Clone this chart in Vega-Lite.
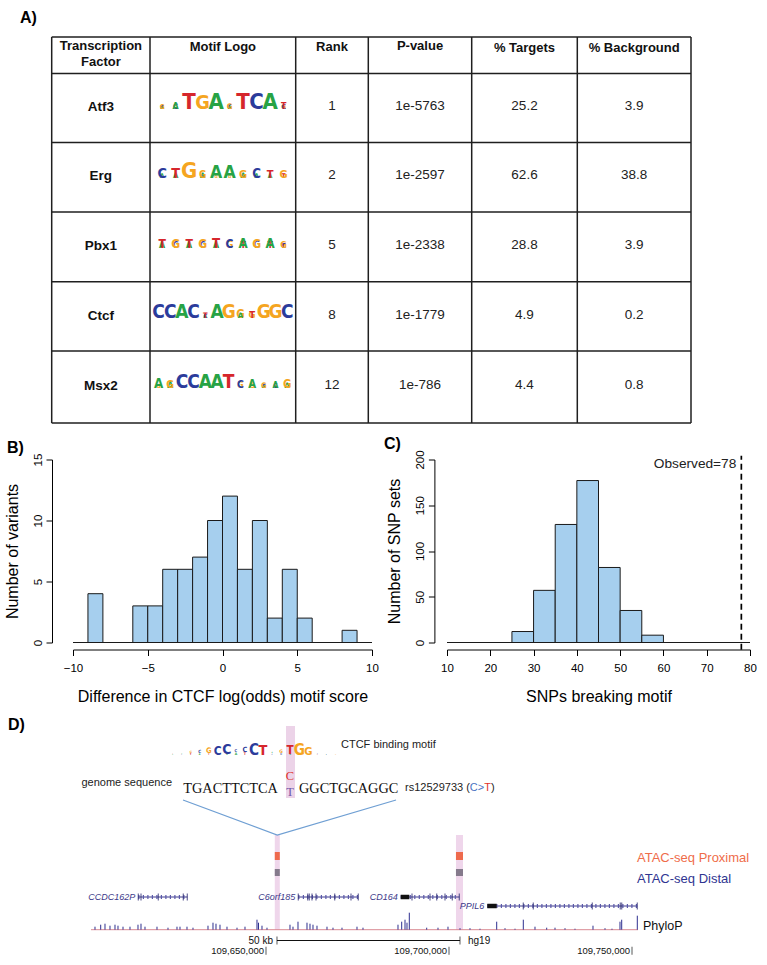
{
"$schema": "https://vega.github.io/schema/vega-lite/v6.json",
"background": "white",
"padding": {"left": 3, "top": 9, "right": 5, "bottom": 5},
"spacing": 11.5,
"config": {
  "font": "Liberation Sans",
  "view": {"stroke": null},
  "axis": {"grid": false, "domainColor": "black", "tickColor": "black", "labelColor": "black", "titleColor": "black", "labelFont": "Liberation Sans", "titleFont": "Liberation Sans", "titleFontWeight": "normal"},
  "title": {"font": "Liberation Sans", "fontWeight": "bold", "fontSize": 16, "anchor": "start", "frame": "group", "color": "black"}
},
"vconcat": [
{
  "width": 618, "height": 386,
  "title": {"text": "A)", "dx": -53, "offset": -2.6, "baseline": "alphabetic"},
  "layer": [
    {"data": {"values": [{"y": -0.024}, {"y": 0.5}, {"y": 1.487}, {"y": 2.48}, {"y": 3.48}, {"y": 4.47}, {"y": 5.5}]},
     "mark": {"type": "rule", "color": "#1f1f1f", "strokeWidth": 1.5},
     "encoding": {
       "y": {"field": "y", "type": "quantitative", "scale": {"domain": [-0.024, 5.5], "reverse": true, "nice": false, "zero": false}, "axis": null},
       "x": {"datum": 0, "type": "quantitative", "scale": {"domain": [21.3, 639.3], "nice": false, "zero": false}, "axis": null},
       "x2": {"datum": 639.3}}},
    {"data": {"values": [{"x": 0}, {"x": 98.3}, {"x": 244}, {"x": 316.6}, {"x": 420}, {"x": 525.6}, {"x": 639.3}]},
     "mark": {"type": "rule", "color": "#1f1f1f", "strokeWidth": 1.5},
     "encoding": {
       "x": {"field": "x", "type": "quantitative", "scale": {"domain": [21.3, 639.3], "nice": false, "zero": false}, "axis": null},
       "y": {"datum": -0.024, "type": "quantitative", "scale": {"domain": [-0.024, 5.5], "reverse": true, "nice": false, "zero": false}, "axis": null},
       "y2": {"datum": 5.5}}},
    {"data": {"values": [
       {"cx": 49.15, "hy": 0.105, "t": "Transcription"}, {"cx": 49.15, "hy": 0.334, "t": "Factor"},
       {"cx": 171.15, "hy": 0.12, "t": "Motif Logo"}, {"cx": 280.3, "hy": 0.12, "t": "Rank"},
       {"cx": 368.3, "hy": 0.105, "t": "P-value"}, {"cx": 472.8, "hy": 0.135, "t": "% Targets"},
       {"cx": 582.45, "hy": 0.135, "t": "% Background"}]},
     "mark": {"type": "text", "fontSize": 13, "fontWeight": "bold", "align": "center", "baseline": "middle", "color": "#111"},
     "encoding": {
       "x": {"field": "cx", "type": "quantitative", "scale": {"domain": [21.3, 639.3], "nice": false, "zero": false}, "axis": null},
       "y": {"field": "hy", "type": "quantitative", "scale": {"domain": [-0.024, 5.5], "reverse": true, "nice": false, "zero": false}, "axis": null},
       "text": {"field": "t"}}},
    {"data": {"values": [{"row": 1, "t": "Atf3"}, {"row": 2, "t": "Erg"}, {"row": 3, "t": "Pbx1"}, {"row": 4, "t": "Ctcf"}, {"row": 5, "t": "Msx2"}]},
     "mark": {"type": "text", "fontSize": 13.5, "fontWeight": "bold", "align": "center", "baseline": "middle", "dy": -2, "color": "#111"},
     "encoding": {
       "x": {"datum": 49.15, "type": "quantitative", "scale": {"domain": [21.3, 639.3], "nice": false, "zero": false}, "axis": null},
       "y": {"field": "row", "type": "quantitative", "scale": {"domain": [-0.024, 5.5], "reverse": true, "nice": false, "zero": false}, "axis": null},
       "text": {"field": "t"}}},
    {"data": {"values": [
       {"row": 1, "cx": 280.3, "t": "1"}, {"row": 1, "cx": 368.3, "t": "1e-5763"}, {"row": 1, "cx": 472.8, "t": "25.2"}, {"row": 1, "cx": 582.45, "t": "3.9"},
       {"row": 2, "cx": 280.3, "t": "2"}, {"row": 2, "cx": 368.3, "t": "1e-2597"}, {"row": 2, "cx": 472.8, "t": "62.6"}, {"row": 2, "cx": 582.45, "t": "38.8"},
       {"row": 3, "cx": 280.3, "t": "5"}, {"row": 3, "cx": 368.3, "t": "1e-2338"}, {"row": 3, "cx": 472.8, "t": "28.8"}, {"row": 3, "cx": 582.45, "t": "3.9"},
       {"row": 4, "cx": 280.3, "t": "8"}, {"row": 4, "cx": 368.3, "t": "1e-1779"}, {"row": 4, "cx": 472.8, "t": "4.9"}, {"row": 4, "cx": 582.45, "t": "0.2"},
       {"row": 5, "cx": 280.3, "t": "12"}, {"row": 5, "cx": 368.3, "t": "1e-786"}, {"row": 5, "cx": 472.8, "t": "4.4"}, {"row": 5, "cx": 582.45, "t": "0.8"}]},
     "mark": {"type": "text", "fontSize": 13.5, "align": "center", "baseline": "middle", "dy": -3, "color": "#222"},
     "encoding": {
       "x": {"field": "cx", "type": "quantitative", "scale": {"domain": [21.3, 639.3], "nice": false, "zero": false}, "axis": null},
       "y": {"field": "row", "type": "quantitative", "scale": {"domain": [-0.024, 5.5], "reverse": true, "nice": false, "zero": false}, "axis": null},
       "text": {"field": "t"}}},
    {"layer": [
      {"data": {"values": [
        {"row":1,"pos":1,"l":"T","y0":0,"p":0.2},{"row":1,"pos":1,"l":"A","y0":0.2,"p":0.25},{"row":1,"pos":1,"l":"C","y0":0.45,"p":0.25},{"row":1,"pos":1,"l":"G","y0":0.7,"p":0.3},
        {"row":1,"pos":2,"l":"G","y0":0,"p":0.25},{"row":1,"pos":2,"l":"C","y0":0.25,"p":0.35},{"row":1,"pos":2,"l":"A","y0":0.6,"p":0.4},
        {"row":1,"pos":3,"l":"T","y0":0,"p":1.0},
        {"row":1,"pos":4,"l":"T","y0":0,"p":0.1},{"row":1,"pos":4,"l":"G","y0":0.1,"p":0.9},
        {"row":1,"pos":5,"l":"A","y0":0,"p":1.0},
        {"row":1,"pos":6,"l":"T","y0":0,"p":0.1},{"row":1,"pos":6,"l":"A","y0":0.1,"p":0.25},{"row":1,"pos":6,"l":"C","y0":0.35,"p":0.3},{"row":1,"pos":6,"l":"G","y0":0.65,"p":0.35},
        {"row":1,"pos":7,"l":"T","y0":0,"p":1.0},
        {"row":1,"pos":8,"l":"C","y0":0,"p":1.0},
        {"row":1,"pos":9,"l":"A","y0":0,"p":1.0},
        {"row":1,"pos":10,"l":"G","y0":0,"p":0.3},{"row":1,"pos":10,"l":"C","y0":0.3,"p":0.3},{"row":1,"pos":10,"l":"T","y0":0.6,"p":0.4},
        {"row":2,"pos":1,"l":"T","y0":0,"p":0.05},{"row":2,"pos":1,"l":"A","y0":0.05,"p":0.3},{"row":2,"pos":1,"l":"C","y0":0.35,"p":0.65},
        {"row":2,"pos":2,"l":"A","y0":0,"p":0.35},{"row":2,"pos":2,"l":"T","y0":0.35,"p":0.65},
        {"row":2,"pos":3,"l":"G","y0":0,"p":1.0},
        {"row":2,"pos":4,"l":"C","y0":0,"p":0.2},{"row":2,"pos":4,"l":"A","y0":0.2,"p":0.35},{"row":2,"pos":4,"l":"G","y0":0.55,"p":0.45},
        {"row":2,"pos":5,"l":"G","y0":0,"p":0.2},{"row":2,"pos":5,"l":"A","y0":0.2,"p":0.8},
        {"row":2,"pos":6,"l":"G","y0":0,"p":0.2},{"row":2,"pos":6,"l":"A","y0":0.2,"p":0.8},
        {"row":2,"pos":7,"l":"T","y0":0,"p":0.15},{"row":2,"pos":7,"l":"A","y0":0.15,"p":0.35},{"row":2,"pos":7,"l":"G","y0":0.5,"p":0.5},
        {"row":2,"pos":8,"l":"T","y0":0,"p":0.1},{"row":2,"pos":8,"l":"A","y0":0.1,"p":0.3},{"row":2,"pos":8,"l":"C","y0":0.4,"p":0.6},
        {"row":2,"pos":9,"l":"C","y0":0,"p":0.1},{"row":2,"pos":9,"l":"G","y0":0.1,"p":0.1},{"row":2,"pos":9,"l":"A","y0":0.2,"p":0.3},{"row":2,"pos":9,"l":"T","y0":0.5,"p":0.5},
        {"row":2,"pos":10,"l":"C","y0":0,"p":0.1},{"row":2,"pos":10,"l":"A","y0":0.1,"p":0.1},{"row":2,"pos":10,"l":"T","y0":0.2,"p":0.3},{"row":2,"pos":10,"l":"G","y0":0.5,"p":0.5},
        {"row":3,"pos":1,"l":"G","y0":0,"p":0.05},{"row":3,"pos":1,"l":"A","y0":0.05,"p":0.4},{"row":3,"pos":1,"l":"T","y0":0.45,"p":0.55},
        {"row":3,"pos":2,"l":"A","y0":0,"p":0.05},{"row":3,"pos":2,"l":"C","y0":0.05,"p":0.4},{"row":3,"pos":2,"l":"G","y0":0.45,"p":0.55},
        {"row":3,"pos":3,"l":"G","y0":0,"p":0.05},{"row":3,"pos":3,"l":"A","y0":0.05,"p":0.4},{"row":3,"pos":3,"l":"T","y0":0.45,"p":0.55},
        {"row":3,"pos":4,"l":"T","y0":0,"p":0.05},{"row":3,"pos":4,"l":"C","y0":0.05,"p":0.4},{"row":3,"pos":4,"l":"G","y0":0.45,"p":0.55},
        {"row":3,"pos":5,"l":"A","y0":0,"p":0.4},{"row":3,"pos":5,"l":"T","y0":0.4,"p":0.6},
        {"row":3,"pos":6,"l":"G","y0":0,"p":0.45},{"row":3,"pos":6,"l":"C","y0":0.45,"p":0.55},
        {"row":3,"pos":7,"l":"T","y0":0,"p":0.4},{"row":3,"pos":7,"l":"A","y0":0.4,"p":0.6},
        {"row":3,"pos":8,"l":"C","y0":0,"p":0.45},{"row":3,"pos":8,"l":"G","y0":0.45,"p":0.55},
        {"row":3,"pos":9,"l":"T","y0":0,"p":0.4},{"row":3,"pos":9,"l":"A","y0":0.4,"p":0.6},
        {"row":3,"pos":10,"l":"T","y0":0,"p":0.3},{"row":3,"pos":10,"l":"C","y0":0.3,"p":0.3},{"row":3,"pos":10,"l":"G","y0":0.6,"p":0.4}]},
       "mark": {"type": "text", "fontWeight": "bold", "font": "Liberation Sans Narrow, DejaVu Sans Condensed, Roboto, sans-serif", "baseline": "alphabetic", "align": "center"},
       "encoding": {
         "x": {"datum": 171.15, "type": "quantitative", "scale": {"domain": [21.3, 639.3], "nice": false, "zero": false}, "axis": null},
         "xOffset": {"field": "pos", "type": "quantitative", "scale": {"domain": [1, 10], "range": [-60.75, 60.75]}},
         "y": {"field": "row", "type": "quantitative", "scale": {"domain": [-0.024, 5.5], "reverse": true, "nice": false, "zero": false}, "axis": null},
         "yOffset": {"field": "y0", "type": "quantitative", "scale": {"domain": [0, 1], "range": [5, -10.6]}},
         "size": {"field": "p", "type": "quantitative", "scale": {"type": "linear", "domain": [0, 1], "range": [0, 22]}, "legend": null},
         "color": {"field": "l", "type": "nominal", "scale": {"domain": ["A", "C", "G", "T"], "range": ["#27a345", "#2b3b9b", "#f5a51f", "#d6262c"]}, "legend": null},
         "text": {"field": "l"}}},
      {"data": {"values": [
        {"row":4,"pos":1,"l":"C","y0":0,"p":1.0},{"row":4,"pos":2,"l":"C","y0":0,"p":1.0},{"row":4,"pos":3,"l":"A","y0":0,"p":1.0},{"row":4,"pos":4,"l":"C","y0":0,"p":1.0},
        {"row":4,"pos":5,"l":"A","y0":0,"p":0.3},{"row":4,"pos":5,"l":"C","y0":0.3,"p":0.3},{"row":4,"pos":5,"l":"T","y0":0.6,"p":0.4},
        {"row":4,"pos":6,"l":"A","y0":0,"p":1.0},{"row":4,"pos":7,"l":"G","y0":0,"p":1.0},
        {"row":4,"pos":8,"l":"G","y0":0,"p":0.6},{"row":4,"pos":8,"l":"A","y0":0.6,"p":0.4},
        {"row":4,"pos":9,"l":"G","y0":0,"p":0.5},{"row":4,"pos":9,"l":"T","y0":0.5,"p":0.5},
        {"row":4,"pos":10,"l":"G","y0":0,"p":1.0},{"row":4,"pos":11,"l":"G","y0":0,"p":1.0},{"row":4,"pos":12,"l":"C","y0":0,"p":1.0},
        {"row":5,"pos":1,"l":"G","y0":0,"p":0.3},{"row":5,"pos":1,"l":"A","y0":0.3,"p":0.7},
        {"row":5,"pos":2,"l":"A","y0":0,"p":0.45},{"row":5,"pos":2,"l":"G","y0":0.45,"p":0.55},
        {"row":5,"pos":3,"l":"C","y0":0,"p":1.0},{"row":5,"pos":4,"l":"C","y0":0,"p":1.0},{"row":5,"pos":5,"l":"A","y0":0,"p":1.0},{"row":5,"pos":6,"l":"A","y0":0,"p":1.0},{"row":5,"pos":7,"l":"T","y0":0,"p":1.0},
        {"row":5,"pos":8,"l":"G","y0":0,"p":0.45},{"row":5,"pos":8,"l":"C","y0":0.45,"p":0.55},
        {"row":5,"pos":9,"l":"G","y0":0,"p":0.4},{"row":5,"pos":9,"l":"A","y0":0.4,"p":0.6},
        {"row":5,"pos":10,"l":"A","y0":0,"p":0.3},{"row":5,"pos":10,"l":"C","y0":0.3,"p":0.3},{"row":5,"pos":10,"l":"G","y0":0.6,"p":0.4},
        {"row":5,"pos":11,"l":"T","y0":0,"p":0.2},{"row":5,"pos":11,"l":"C","y0":0.2,"p":0.35},{"row":5,"pos":11,"l":"A","y0":0.55,"p":0.45},
        {"row":5,"pos":12,"l":"A","y0":0,"p":0.4},{"row":5,"pos":12,"l":"G","y0":0.4,"p":0.6}]},
       "mark": {"type": "text", "fontWeight": "bold", "font": "Liberation Sans Narrow, DejaVu Sans Condensed, Roboto, sans-serif", "baseline": "alphabetic", "align": "center"},
       "encoding": {
         "x": {"datum": 171.15, "type": "quantitative", "scale": {"domain": [21.3, 639.3], "nice": false, "zero": false}, "axis": null},
         "xOffset": {"field": "pos", "type": "quantitative", "scale": {"domain": [1, 12], "range": [-64.35, 64.35]}},
         "y": {"field": "row", "type": "quantitative", "scale": {"domain": [-0.024, 5.5], "reverse": true, "nice": false, "zero": false}, "axis": null},
         "yOffset": {"field": "y0", "type": "quantitative", "scale": {"domain": [0, 1], "range": [4.5, -9]}},
         "size": {"field": "p", "type": "quantitative", "scale": {"type": "linear", "domain": [0, 1], "range": [0, 19]}, "legend": null},
         "color": {"field": "l", "type": "nominal", "scale": {"domain": ["A", "C", "G", "T"], "range": ["#27a345", "#2b3b9b", "#f5a51f", "#d6262c"]}, "legend": null},
         "text": {"field": "l"}}}
     ],
     "resolve": {"scale": {"xOffset": "independent", "yOffset": "independent", "size": "independent"}}}
  ]
},
{
  "hconcat": [
    {
      "width": 299, "height": 183,
      "title": {"text": "B)", "dx": -66, "offset": -15.4, "baseline": "alphabetic"},
      "layer": [
        {"data": {"values": [
          {"lo": -9, "hi": -8, "n": 4}, {"lo": -6, "hi": -5, "n": 3}, {"lo": -5, "hi": -4, "n": 3}, {"lo": -4, "hi": -3, "n": 6},
          {"lo": -3, "hi": -2, "n": 6}, {"lo": -2, "hi": -1, "n": 7}, {"lo": -1, "hi": 0, "n": 10}, {"lo": 0, "hi": 1, "n": 12},
          {"lo": 1, "hi": 2, "n": 6}, {"lo": 2, "hi": 3, "n": 10}, {"lo": 3, "hi": 4, "n": 2}, {"lo": 4, "hi": 5, "n": 6},
          {"lo": 5, "hi": 6, "n": 2}, {"lo": 8, "hi": 9, "n": 1}]},
         "mark": {"type": "rect", "fill": "#a6cfee", "stroke": "#1a1a1a", "strokeWidth": 1},
         "encoding": {
           "x": {"field": "lo", "type": "quantitative", "scale": {"domain": [-10, 10], "nice": false, "zero": false},
                 "axis": {"values": [-10, -5, 0, 5, 10], "offset": 7, "tickSize": 6, "labelFontSize": 11.5, "labelPadding": 7, "labelFlush": false, "labelOverlap": false,
                          "title": "Difference in CTCF log(odds) motif score", "titleFontSize": 16, "titlePadding": 14}},
           "x2": {"field": "hi"},
           "y": {"field": "n", "type": "quantitative", "scale": {"domain": [0, 15], "nice": false},
                 "axis": {"values": [0, 5, 10, 15], "offset": 21, "tickSize": 6, "labelAngle": -90, "labelFontSize": 11.5, "labelPadding": 3, "labelFlush": false,
                          "title": "Number of variants", "titleFontSize": 16, "titlePadding": 12}},
           "y2": {"datum": 0}}},
        {"data": {"values": [{"from": -10, "to": 10}]},
         "mark": {"type": "rule", "color": "#1a1a1a", "strokeWidth": 1},
         "encoding": {"x": {"field": "from", "type": "quantitative"}, "x2": {"field": "to"}, "y": {"datum": 0, "type": "quantitative"}}}
      ]
    },
    {
      "width": 303, "height": 183,
      "title": {"text": "C)", "dx": -63, "offset": -15.4, "baseline": "alphabetic"},
      "layer": [
        {"data": {"values": [
          {"lo": 25, "hi": 30, "n": 12}, {"lo": 30, "hi": 35, "n": 57}, {"lo": 35, "hi": 40, "n": 129}, {"lo": 40, "hi": 45, "n": 177},
          {"lo": 45, "hi": 50, "n": 82}, {"lo": 50, "hi": 55, "n": 35}, {"lo": 55, "hi": 60, "n": 8}]},
         "mark": {"type": "rect", "fill": "#a6cfee", "stroke": "#1a1a1a", "strokeWidth": 1},
         "encoding": {
           "x": {"field": "lo", "type": "quantitative", "scale": {"domain": [10, 80], "nice": false, "zero": false},
                 "axis": {"values": [10, 20, 30, 40, 50, 60, 70, 80], "offset": 7, "tickSize": 6, "labelFontSize": 11.5, "labelPadding": 7, "labelFlush": false, "labelOverlap": false,
                          "title": "SNPs breaking motif", "titleFontSize": 16, "titlePadding": 14}},
           "x2": {"field": "hi"},
           "y": {"field": "n", "type": "quantitative", "scale": {"domain": [0, 200], "nice": false},
                 "axis": {"values": [0, 50, 100, 150, 200], "offset": 12.6, "tickSize": 6, "labelAngle": -90, "labelFontSize": 11.5, "labelPadding": 3, "labelFlush": false,
                          "title": "Number of SNP sets", "titleFontSize": 16, "titlePadding": 12}},
           "y2": {"datum": 0}}},
        {"data": {"values": [{"from": 10, "to": 80}]},
         "mark": {"type": "rule", "color": "#1a1a1a", "strokeWidth": 1},
         "encoding": {"x": {"field": "from", "type": "quantitative"}, "x2": {"field": "to"}, "y": {"datum": 0, "type": "quantitative"}}},
        {"data": {"values": [{"obs": 78, "label": "Observed=78"}]},
         "layer": [
           {"mark": {"type": "rule", "color": "black", "strokeWidth": 1.7, "strokeDash": [6, 4]},
            "encoding": {"x": {"field": "obs", "type": "quantitative"}, "y": {"datum": -8, "type": "quantitative"}, "y2": {"datum": 204}}},
           {"mark": {"type": "text", "align": "right", "baseline": "middle", "dx": -5, "fontSize": 13.7, "color": "#222"},
            "encoding": {"x": {"field": "obs", "type": "quantitative"}, "y": {"datum": 195, "type": "quantitative"}, "text": {"field": "label"}}}
         ]}
      ]
    }
  ],
  "spacing": 5
},
{
  "width": 565, "height": 222,
  "title": {"text": "D)", "dx": -65, "offset": -19.8, "baseline": "alphabetic"},
  "resolve": {"scale": {"x": "independent", "y": "independent", "color": "independent", "size": "independent"}},
  "layer": [
    {"data": {"values": [{"s": 109652400, "e": 109653770}, {"s": 109701900, "e": 109703820}]},
     "mark": {"type": "rect", "fill": "#efd6eb"},
     "encoding": {
       "x": {"field": "s", "type": "quantitative", "scale": {"domain": [109597269, 109751638], "nice": false, "zero": false}, "axis": null},
       "x2": {"field": "e"},
       "y": {"datum": 9.9, "type": "quantitative", "scale": {"domain": [0, 22.2], "reverse": true, "nice": false, "zero": false}, "axis": null},
       "y2": {"datum": 19.4}}},
    {"data": {"values": [{"u0": 11.31, "u1": 12.26}]},
     "mark": {"type": "rect", "fill": "#ecd3e8"},
     "encoding": {
       "x": {"field": "u0", "type": "quantitative", "scale": {"domain": [-11.11, 48.36], "nice": false, "zero": false}, "axis": null},
       "x2": {"field": "u1"},
       "y": {"datum": -1.0, "type": "quantitative", "scale": {"domain": [0, 22.2], "reverse": true, "nice": false, "zero": false}, "axis": null},
       "y2": {"datum": 6.2}}},
    {"data": {"values": [{"u": 0.47, "y": 6.4, "o": 1}, {"u": 10.39, "y": 9.9, "o": 2}, {"u": 22.89, "y": 6.4, "o": 3}]},
     "mark": {"type": "line", "color": "#6f9fd3", "strokeWidth": 1.3},
     "encoding": {
       "x": {"field": "u", "type": "quantitative", "scale": {"domain": [-11.11, 48.36], "nice": false, "zero": false}, "axis": null},
       "y": {"field": "y", "type": "quantitative", "scale": {"domain": [0, 22.2], "reverse": true, "nice": false, "zero": false}, "axis": null},
       "order": {"field": "o"}}},
    {"data": {"values": [
       {"pos":1,"l":"A","y0":0,"b":0.12},{"pos":1,"l":"T","y0":0.12,"b":0.15},
       {"pos":2,"l":"C","y0":0,"b":0.12},{"pos":2,"l":"A","y0":0.12,"b":0.15},
       {"pos":3,"l":"T","y0":0,"b":0.35},{"pos":3,"l":"G","y0":0.35,"b":0.4},
       {"pos":4,"l":"A","y0":0,"b":0.3},{"pos":4,"l":"C","y0":0.3,"b":0.55},
       {"pos":5,"l":"T","y0":0,"b":0.3},{"pos":5,"l":"G","y0":0.3,"b":0.95},
       {"pos":6,"l":"C","y0":0,"b":1.5},
       {"pos":7,"l":"A","y0":0,"b":0.25},{"pos":7,"l":"C","y0":0.25,"b":1.75},
       {"pos":8,"l":"A","y0":0,"b":0.45},{"pos":8,"l":"C","y0":0.45,"b":0.5},
       {"pos":9,"l":"T","y0":0,"b":0.45},{"pos":9,"l":"C","y0":0.45,"b":0.9},
       {"pos":10,"l":"C","y0":0,"b":1.9},
       {"pos":11,"l":"T","y0":0,"b":1.8},
       {"pos":12,"l":"C","y0":0,"b":0.2},{"pos":12,"l":"A","y0":0.2,"b":0.2},
       {"pos":13,"l":"C","y0":0,"b":0.35},{"pos":13,"l":"G","y0":0.35,"b":0.6},
       {"pos":14,"l":"A","y0":0,"b":0.25},{"pos":14,"l":"T","y0":0.25,"b":1.45},
       {"pos":15,"l":"G","y0":0,"b":1.9},
       {"pos":16,"l":"G","y0":0,"b":1.4},
       {"pos":17,"l":"T","y0":0,"b":0.12},{"pos":17,"l":"C","y0":0.12,"b":0.15},
       {"pos":18,"l":"C","y0":0,"b":0.1},{"pos":18,"l":"A","y0":0.1,"b":0.1},
       {"pos":19,"l":"G","y0":0,"b":0.1},{"pos":19,"l":"A","y0":0.1,"b":0.08}]},
     "mark": {"type": "text", "fontWeight": "bold", "font": "Liberation Sans Narrow, DejaVu Sans Condensed, Roboto, sans-serif", "baseline": "alphabetic", "align": "center"},
     "encoding": {
       "x": {"field": "pos", "type": "quantitative", "scale": {"domain": [-9.997, 52.43], "nice": false, "zero": false}, "axis": null},
       "y": {"field": "y0", "type": "quantitative", "scale": {"domain": [-35.0, 3.28], "nice": false, "zero": false}, "axis": null},
       "size": {"field": "b", "type": "quantitative", "scale": {"type": "linear", "domain": [0, 2], "range": [0, 16]}, "legend": null},
       "color": {"field": "l", "type": "nominal", "scale": {"domain": ["A", "C", "G", "T"], "range": ["#27a345", "#2b3b9b", "#f5a51f", "#d6262c"]}, "legend": null},
       "text": {"field": "l"}}},
    {"data": {"values": [{"u": 17.1, "y": 0.87, "t": "CTCF binding motif"}, {"u": 23.84, "y": 5.2, "t": "rs12529733 ("}, {"u": 32.88, "y": 5.2, "t": ")"}]},
     "mark": {"type": "text", "align": "left", "baseline": "middle", "fontSize": 11, "color": "#222"},
     "encoding": {
       "x": {"field": "u", "type": "quantitative", "scale": {"domain": [-11.11, 48.36], "nice": false, "zero": false}, "axis": null},
       "y": {"field": "y", "type": "quantitative", "scale": {"domain": [0, 22.2], "reverse": true, "nice": false, "zero": false}, "axis": null},
       "text": {"field": "t"}}},
    {"data": {"values": [{"u": -0.69, "y": 4.7, "t": "genome sequence"}]},
     "mark": {"type": "text", "align": "right", "baseline": "middle", "fontSize": 11, "color": "#222"},
     "encoding": {
       "x": {"field": "u", "type": "quantitative", "scale": {"domain": [-11.11, 48.36], "nice": false, "zero": false}, "axis": null},
       "y": {"field": "y", "type": "quantitative", "scale": {"domain": [0, 22.2], "reverse": true, "nice": false, "zero": false}, "axis": null},
       "text": {"field": "t"}}},
    {"data": {"values": [{"u": 0.5, "y": 5.3, "t": "TGACTTCTCA"}, {"u": 12.68, "y": 5.3, "t": "GGCTGCAGGC"}]},
     "mark": {"type": "text", "align": "left", "baseline": "middle", "fontSize": 14.3, "font": "Liberation Serif", "color": "#111"},
     "encoding": {
       "x": {"field": "u", "type": "quantitative", "scale": {"domain": [-11.11, 48.36], "nice": false, "zero": false}, "axis": null},
       "y": {"field": "y", "type": "quantitative", "scale": {"domain": [0, 22.2], "reverse": true, "nice": false, "zero": false}, "axis": null},
       "text": {"field": "t"}}},
    {"data": {"values": [{"u": 11.73, "y": 4.0, "t": "C"}]},
     "mark": {"type": "text", "align": "center", "baseline": "middle", "fontSize": 12.5, "font": "Liberation Serif", "color": "#e0342b"},
     "encoding": {
       "x": {"field": "u", "type": "quantitative", "scale": {"domain": [-11.11, 48.36], "nice": false, "zero": false}, "axis": null},
       "y": {"field": "y", "type": "quantitative", "scale": {"domain": [0, 22.2], "reverse": true, "nice": false, "zero": false}, "axis": null},
       "text": {"field": "t"}}},
    {"data": {"values": [{"u": 11.73, "y": 5.6, "t": "T"}]},
     "mark": {"type": "text", "align": "center", "baseline": "middle", "fontSize": 12.5, "font": "Liberation Serif", "color": "#7057a8"},
     "encoding": {
       "x": {"field": "u", "type": "quantitative", "scale": {"domain": [-11.11, 48.36], "nice": false, "zero": false}, "axis": null},
       "y": {"field": "y", "type": "quantitative", "scale": {"domain": [0, 22.2], "reverse": true, "nice": false, "zero": false}, "axis": null},
       "text": {"field": "t"}}},
    {"data": {"values": [{"u": 30.66, "y": 5.2, "t": "C>"}]},
     "mark": {"type": "text", "align": "left", "baseline": "middle", "fontSize": 11, "color": "#4b72c2"},
     "encoding": {
       "x": {"field": "u", "type": "quantitative", "scale": {"domain": [-11.11, 48.36], "nice": false, "zero": false}, "axis": null},
       "y": {"field": "y", "type": "quantitative", "scale": {"domain": [0, 22.2], "reverse": true, "nice": false, "zero": false}, "axis": null},
       "text": {"field": "t"}}},
    {"data": {"values": [{"u": 32.18, "y": 5.2, "t": "T"}]},
     "mark": {"type": "text", "align": "left", "baseline": "middle", "fontSize": 11, "color": "#e0342b"},
     "encoding": {
       "x": {"field": "u", "type": "quantitative", "scale": {"domain": [-11.11, 48.36], "nice": false, "zero": false}, "axis": null},
       "y": {"field": "y", "type": "quantitative", "scale": {"domain": [0, 22.2], "reverse": true, "nice": false, "zero": false}, "axis": null},
       "text": {"field": "t"}}},
    {"data": {"values": [{"s": 109652400, "e": 109653770}, {"s": 109701900, "e": 109703820}]},
     "mark": {"type": "rect", "fill": "#ee6a4d"},
     "encoding": {
       "x": {"field": "s", "type": "quantitative", "scale": {"domain": [109597269, 109751638], "nice": false, "zero": false}, "axis": null},
       "x2": {"field": "e"},
       "y": {"datum": 11.6, "type": "quantitative", "scale": {"domain": [0, 22.2], "reverse": true, "nice": false, "zero": false}, "axis": null},
       "y2": {"datum": 12.4}}},
    {"data": {"values": [{"s": 109652400, "e": 109653770}, {"s": 109701900, "e": 109703820}]},
     "mark": {"type": "rect", "fill": "#857a8c"},
     "encoding": {
       "x": {"field": "s", "type": "quantitative", "scale": {"domain": [109597269, 109751638], "nice": false, "zero": false}, "axis": null},
       "x2": {"field": "e"},
       "y": {"datum": 13.3, "type": "quantitative", "scale": {"domain": [0, 22.2], "reverse": true, "nice": false, "zero": false}, "axis": null},
       "y2": {"datum": 14.0}}},
    {"data": {"values": [{"t": "ATAC-seq Proximal", "y": 12.2}]},
     "mark": {"type": "text", "align": "left", "baseline": "middle", "fontSize": 13, "color": "#ef6c4a"},
     "encoding": {
       "x": {"datum": 109751365, "type": "quantitative", "scale": {"domain": [109597269, 109751638], "nice": false, "zero": false}, "axis": null},
       "y": {"field": "y", "type": "quantitative", "scale": {"domain": [0, 22.2], "reverse": true, "nice": false, "zero": false}, "axis": null},
       "text": {"field": "t"}}},
    {"data": {"values": [{"t": "ATAC-seq Distal", "y": 14.3}]},
     "mark": {"type": "text", "align": "left", "baseline": "middle", "fontSize": 13, "color": "#2f3591"},
     "encoding": {
       "x": {"datum": 109751365, "type": "quantitative", "scale": {"domain": [109597269, 109751638], "nice": false, "zero": false}, "axis": null},
       "y": {"field": "y", "type": "quantitative", "scale": {"domain": [0, 22.2], "reverse": true, "nice": false, "zero": false}, "axis": null},
       "text": {"field": "t"}}},
    {"data": {"values": [
       {"name": "CCDC162P", "start": 109615110, "end": 109628498, "lane": 16.1},
       {"name": "C6orf185", "start": 109658825, "end": 109675218, "lane": 16.1},
       {"name": "CD164", "start": 109686803, "end": 109702813, "lane": 16.1},
       {"name": "PPIL6", "start": 109710464, "end": 109751447, "lane": 17.0}]},
     "layer": [
       {"mark": {"type": "rule", "color": "#3d3a8a", "strokeWidth": 1},
        "encoding": {
          "x": {"field": "start", "type": "quantitative", "scale": {"domain": [109597269, 109751638], "nice": false, "zero": false}, "axis": null},
          "x2": {"field": "end"},
          "y": {"field": "lane", "type": "quantitative", "scale": {"domain": [0, 22.2], "reverse": true, "nice": false, "zero": false}, "axis": null}}},
       {"mark": {"type": "rule", "color": "#5b59aa", "strokeWidth": 4, "strokeDash": [1.2, 3.3]},
        "encoding": {
          "x": {"field": "start", "type": "quantitative", "scale": {"domain": [109597269, 109751638], "nice": false, "zero": false}, "axis": null},
          "x2": {"field": "end"},
          "y": {"field": "lane", "type": "quantitative", "scale": {"domain": [0, 22.2], "reverse": true, "nice": false, "zero": false}, "axis": null}}},
       {"mark": {"type": "text", "align": "right", "baseline": "middle", "dx": -3, "fontSize": 9, "fontStyle": "italic", "color": "#3d3a8a"},
        "encoding": {
          "x": {"field": "start", "type": "quantitative", "scale": {"domain": [109597269, 109751638], "nice": false, "zero": false}, "axis": null},
          "y": {"field": "lane", "type": "quantitative", "scale": {"domain": [0, 22.2], "reverse": true, "nice": false, "zero": false}, "axis": null},
          "text": {"field": "name"}}}
     ]},
    {"data": {"values": [
       {"p": 109615110, "lane": 16.1}, {"p": 109615850, "lane": 16.1}, {"p": 109620574, "lane": 16.1}, {"p": 109627405, "lane": 16.1}, {"p": 109628498, "lane": 16.1},
       {"p": 109658825, "lane": 16.1}, {"p": 109661393, "lane": 16.1}, {"p": 109661830, "lane": 16.1}, {"p": 109662568, "lane": 16.1}, {"p": 109663661, "lane": 16.1},
       {"p": 109668770, "lane": 16.1}, {"p": 109673224, "lane": 16.1}, {"p": 109675218, "lane": 16.1},
       {"p": 109689890, "lane": 16.1}, {"p": 109694808, "lane": 16.1}, {"p": 109696639, "lane": 16.1}, {"p": 109698906, "lane": 16.1}, {"p": 109700901, "lane": 16.1}, {"p": 109702813, "lane": 16.1},
       {"p": 109720299, "lane": 17.0}, {"p": 109723031, "lane": 17.0}, {"p": 109739152, "lane": 17.0}, {"p": 109746802, "lane": 17.0}, {"p": 109747185, "lane": 17.0}, {"p": 109751447, "lane": 17.0}]},
     "mark": {"type": "tick", "orient": "vertical", "size": 7, "thickness": 1.2, "color": "#2a2870"},
     "encoding": {
       "x": {"field": "p", "type": "quantitative", "scale": {"domain": [109597269, 109751638], "nice": false, "zero": false}, "axis": null},
       "y": {"field": "lane", "type": "quantitative", "scale": {"domain": [0, 22.2], "reverse": true, "nice": false, "zero": false}, "axis": null}}},
    {"data": {"values": [{"s": 109686803, "e": 109689153, "lane": 16.1}, {"s": 109710464, "e": 109713032, "lane": 17.0}]},
     "mark": {"type": "rule", "color": "#111", "strokeWidth": 4.5, "strokeCap": "butt"},
     "encoding": {
       "x": {"field": "s", "type": "quantitative", "scale": {"domain": [109597269, 109751638], "nice": false, "zero": false}, "axis": null},
       "x2": {"field": "e"},
       "y": {"field": "lane", "type": "quantitative", "scale": {"domain": [0, 22.2], "reverse": true, "nice": false, "zero": false}, "axis": null}}},
    {"data": {"values": [{"s": 109602186, "e": 109751638}]},
     "mark": {"type": "rule", "color": "#d98a93", "strokeWidth": 1},
     "encoding": {
       "x": {"field": "s", "type": "quantitative", "scale": {"domain": [109597269, 109751638], "nice": false, "zero": false}, "axis": null},
       "x2": {"field": "e"},
       "y": {"datum": 0, "type": "quantitative", "scale": {"domain": [-14.15, 96.85], "nice": false, "zero": false}, "axis": null}}},
    {"data": {"values": [
       {"p": 109603279, "s": 1.5}, {"p": 109604837, "s": 2.5}, {"p": 109606012, "s": 3}, {"p": 109607378, "s": 2}, {"p": 109608744, "s": 2.5},
       {"p": 109609563, "s": 2}, {"p": 109610930, "s": 1.5}, {"p": 109612842, "s": 1.5}, {"p": 109615028, "s": 2.5}, {"p": 109615847, "s": 3},
       {"p": 109616940, "s": 1.5}, {"p": 109620219, "s": 1.5}, {"p": 109623224, "s": 1}, {"p": 109625683, "s": 1.5}, {"p": 109626503, "s": 1.5},
       {"p": 109628416, "s": 1.5}, {"p": 109630055, "s": 1}, {"p": 109634153, "s": 2}, {"p": 109635519, "s": 3.5}, {"p": 109636339, "s": 3},
       {"p": 109637432, "s": 2.5}, {"p": 109639344, "s": 1.5}, {"p": 109642077, "s": 1}, {"p": 109644262, "s": 1.5}, {"p": 109647541, "s": 5},
       {"p": 109647951, "s": 3.5}, {"p": 109648907, "s": 2}, {"p": 109650273, "s": 1}, {"p": 109656557, "s": 2.5}, {"p": 109657377, "s": 1.5},
       {"p": 109658743, "s": 4}, {"p": 109661202, "s": 3.5}, {"p": 109662022, "s": 3}, {"p": 109662841, "s": 2.5}, {"p": 109663934, "s": 2},
       {"p": 109666666, "s": 1.5}, {"p": 109668306, "s": 1}, {"p": 109670765, "s": 1}, {"p": 109674863, "s": 1.5}, {"p": 109676502, "s": 1},
       {"p": 109686065, "s": 2.5}, {"p": 109687076, "s": 4}, {"p": 109687978, "s": 5}, {"p": 109688524, "s": 3.5}, {"p": 109689153, "s": 8.5},
       {"p": 109693906, "s": 1}, {"p": 109696994, "s": 1}, {"p": 109699726, "s": 1.5}, {"p": 109703005, "s": 0.75}, {"p": 109705737, "s": 0.75},
       {"p": 109708469, "s": 0.5}, {"p": 109713032, "s": 4}, {"p": 109715300, "s": 0.75}, {"p": 109718032, "s": 0.5}, {"p": 109720299, "s": 5},
       {"p": 109723496, "s": 1.5}, {"p": 109726692, "s": 1}, {"p": 109728961, "s": 1}, {"p": 109731693, "s": 0.75}, {"p": 109734425, "s": 0.5},
       {"p": 109739343, "s": 2}, {"p": 109742622, "s": 0.75}, {"p": 109744534, "s": 0.5}, {"p": 109746720, "s": 4}, {"p": 109747184, "s": 5},
       {"p": 109751447, "s": 7}]},
     "mark": {"type": "rule", "color": "#2d2f8f", "strokeWidth": 1},
     "encoding": {
       "x": {"field": "p", "type": "quantitative", "scale": {"domain": [109597269, 109751638], "nice": false, "zero": false}, "axis": null},
       "y": {"field": "s", "type": "quantitative", "scale": {"domain": [-14.15, 96.85], "nice": false, "zero": false}, "axis": null},
       "y2": {"datum": 0}}},
    {"data": {"values": [{"t": "PhyloP", "y": 18.97}]},
     "mark": {"type": "text", "align": "left", "baseline": "middle", "fontSize": 12.5, "color": "#111"},
     "encoding": {
       "x": {"datum": 109753004, "type": "quantitative", "scale": {"domain": [109597269, 109751638], "nice": false, "zero": false}, "axis": null},
       "y": {"field": "y", "type": "quantitative", "scale": {"domain": [0, 22.2], "reverse": true, "nice": false, "zero": false}, "axis": null},
       "text": {"field": "t"}}},
    {"data": {"values": [{"s": 109653000, "e": 109703000, "label": "50 kb", "build": "hg19", "y": 20.45}]},
     "layer": [
       {"mark": {"type": "rule", "color": "#111", "strokeWidth": 1},
        "encoding": {
          "x": {"field": "s", "type": "quantitative", "scale": {"domain": [109597269, 109751638], "nice": false, "zero": false}, "axis": null},
          "x2": {"field": "e"},
          "y": {"field": "y", "type": "quantitative", "scale": {"domain": [0, 22.2], "reverse": true, "nice": false, "zero": false}, "axis": null}}},
       {"mark": {"type": "tick", "orient": "vertical", "size": 8, "thickness": 1, "color": "#111"},
        "encoding": {
          "x": {"field": "s", "type": "quantitative", "scale": {"domain": [109597269, 109751638], "nice": false, "zero": false}, "axis": null},
          "y": {"field": "y", "type": "quantitative", "scale": {"domain": [0, 22.2], "reverse": true, "nice": false, "zero": false}, "axis": null}}},
       {"mark": {"type": "tick", "orient": "vertical", "size": 8, "thickness": 1, "color": "#111"},
        "encoding": {
          "x": {"field": "e", "type": "quantitative", "scale": {"domain": [109597269, 109751638], "nice": false, "zero": false}, "axis": null},
          "y": {"field": "y", "type": "quantitative", "scale": {"domain": [0, 22.2], "reverse": true, "nice": false, "zero": false}, "axis": null}}},
       {"mark": {"type": "text", "align": "right", "baseline": "middle", "dx": -4, "fontSize": 10, "color": "#111"},
        "encoding": {
          "x": {"field": "s", "type": "quantitative", "scale": {"domain": [109597269, 109751638], "nice": false, "zero": false}, "axis": null},
          "y": {"field": "y", "type": "quantitative", "scale": {"domain": [0, 22.2], "reverse": true, "nice": false, "zero": false}, "axis": null},
          "text": {"field": "label"}}},
       {"mark": {"type": "text", "align": "left", "baseline": "middle", "dx": 8, "fontSize": 10, "color": "#111"},
        "encoding": {
          "x": {"field": "e", "type": "quantitative", "scale": {"domain": [109597269, 109751638], "nice": false, "zero": false}, "axis": null},
          "y": {"field": "y", "type": "quantitative", "scale": {"domain": [0, 22.2], "reverse": true, "nice": false, "zero": false}, "axis": null},
          "text": {"field": "build"}}}
     ]},
    {"data": {"values": [{"p": 109650000, "t": "109,650,000", "y": 21.47}, {"p": 109700000, "t": "109,700,000", "y": 21.47}, {"p": 109750000, "t": "109,750,000", "y": 21.47}]},
     "layer": [
       {"mark": {"type": "text", "align": "right", "baseline": "middle", "dx": -2, "fontSize": 9.5, "color": "#111"},
        "encoding": {
          "x": {"field": "p", "type": "quantitative", "scale": {"domain": [109597269, 109751638], "nice": false, "zero": false}, "axis": null},
          "y": {"field": "y", "type": "quantitative", "scale": {"domain": [0, 22.2], "reverse": true, "nice": false, "zero": false}, "axis": null},
          "text": {"field": "t"}}},
       {"mark": {"type": "tick", "orient": "vertical", "size": 8, "thickness": 1, "color": "#111"},
        "encoding": {
          "x": {"field": "p", "type": "quantitative", "scale": {"domain": [109597269, 109751638], "nice": false, "zero": false}, "axis": null},
          "y": {"field": "y", "type": "quantitative", "scale": {"domain": [0, 22.2], "reverse": true, "nice": false, "zero": false}, "axis": null}}}
     ]}
  ]
}
]
}
